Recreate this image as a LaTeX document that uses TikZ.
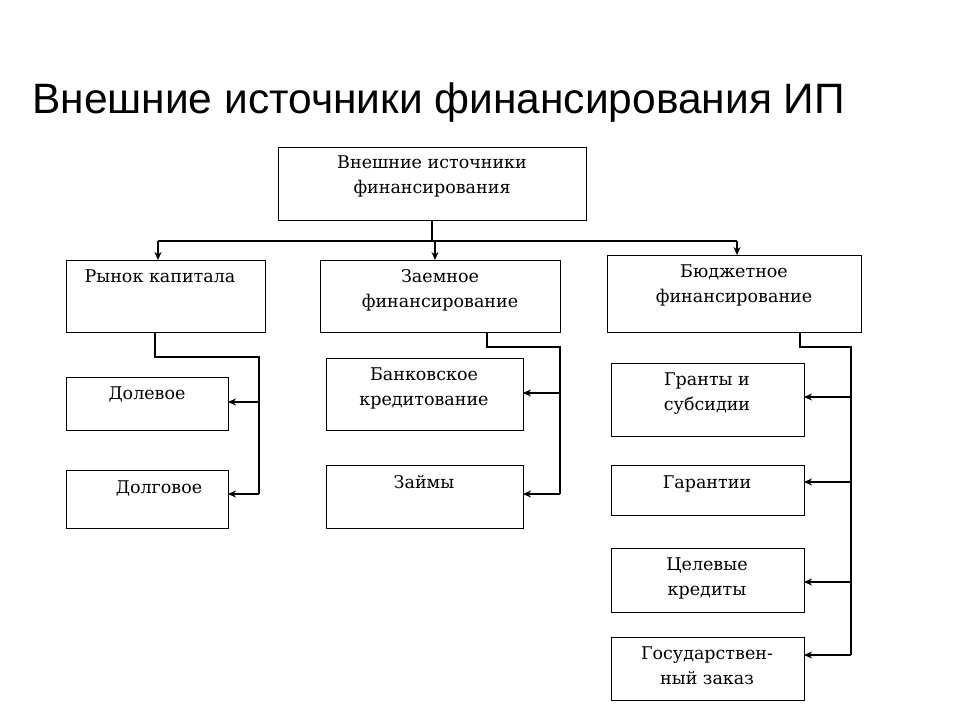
\documentclass[tikz,border=0pt]{standalone}
\usepackage{fontspec}
\setmainfont{DejaVu Serif}
\newfontfamily\ttl{Liberation Sans}
\usetikzlibrary{arrows.meta}
\begin{document}
\begin{tikzpicture}[x=1pt,y=-1pt,
 box/.style={draw,line width=0.9pt,inner sep=0},
 lbl/.style={font=\fontsize{17.5}{25}\selectfont,align=center,anchor=north},
 ln/.style={line width=1.3pt},
 ar/.style={line width=1.3pt,-{Stealth[length=8pt,width=7pt]}}]
\useasboundingbox[fill=white] (0,0) rectangle (960,720);
\node[anchor=base west,inner sep=0,font=\ttl\fontsize{42.5}{48}\selectfont] (t) at (32,113) {Внешние источники финансирования ИП};
\draw[box] (278,147) rectangle (586,220); \node[lbl] (top) at (432,152) {Внешние источники\\финансирования};
\draw[box] (66,260) rectangle (265,332); \node[lbl] (b1) at (160,266) {Рынок капитала};
\draw[box] (320,260) rectangle (560,332); \node[lbl] (b2) at (440,266) {Заемное\\финансирование};
\draw[box] (607,255) rectangle (861,332); \node[lbl] (b3) at (734,261) {Бюджетное\\финансирование};
\draw[box] (66,377) rectangle (228,430); \node[lbl] (l1) at (147,383) {Долевое};
\draw[box] (66,470) rectangle (228,528); \node[lbl] (l2) at (159,477) {Долговое};
\draw[box] (326,358) rectangle (523,430); \node[lbl] (m1) at (424,364) {Банковское\\кредитование};
\draw[box] (326,465) rectangle (523,528); \node[lbl] (m2) at (424,472) {Займы};
\draw[box] (611,363) rectangle (804,436); \node[lbl] (r1) at (707,369) {Гранты и\\субсидии};
\draw[box] (611,465) rectangle (804,515); \node[lbl] (r2) at (707,472) {Гарантии};
\draw[box] (611,548) rectangle (804,612); \node[lbl] (r3) at (707,554) {Целевые\\кредиты};
\draw[box] (611,637) rectangle (804,700); \node[lbl] (r4) at (707,643) {Государствен-\\ный заказ};
% top distribution
\draw[ln] (432,220) -- (432,241);
\draw[ln] (158,241) -- (737,241);
\draw[ar] (158,241) -- (158,260);
\draw[ar] (435,241) -- (435,260);
\draw[ar] (737,241) -- (737,255);
% left
\draw[ln] (155,332) -- (155,357) -- (259,357) -- (259,494);
\draw[ar] (259,402) -- (228,402);
\draw[ar] (259,494) -- (228,494);
% middle
\draw[ln] (487,332) -- (487,347) -- (560,347) -- (560,494);
\draw[ar] (560,393) -- (523,393);
\draw[ar] (560,494) -- (523,494);
% right
\draw[ln] (800,332) -- (800,347) -- (851,347) -- (851,655);
\draw[ar] (851,397) -- (804,397);
\draw[ar] (851,482) -- (804,482);
\draw[ar] (851,582) -- (804,582);
\draw[ar] (851,655) -- (804,655);
\end{tikzpicture}
\end{document}
